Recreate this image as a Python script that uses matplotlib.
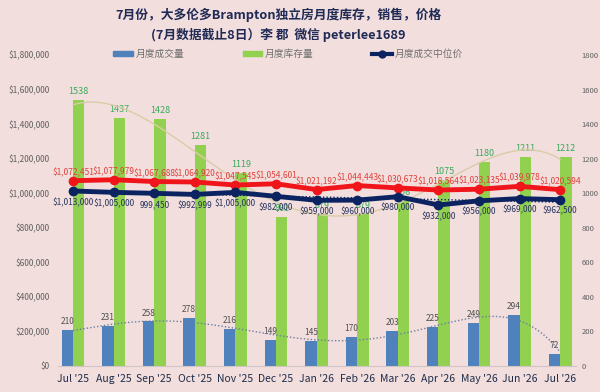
import numpy as np
import matplotlib
matplotlib.use('Agg')
from matplotlib import pyplot as plt
from matplotlib.patches import Patch
from matplotlib.lines import Line2D

plt.rcParams['font.family'] = ['Noto Sans CJK SC', 'DejaVu Sans']

months = ["Jul '25", "Aug '25", "Sep '25", "Oct '25", "Nov '25", "Dec '25", "Jan '26",
          "Feb '26", "Mar '26", "Apr '26", "May '26", "Jun '26", "Jul '26"]
sales = [210, 231, 258, 278, 216, 149, 145, 170, 203, 225, 249, 294, 72]
inventory = [1538, 1437, 1428, 1281, 1119, 861, 879, 879, 956, 1075, 1180, 1211, 1212]
avg_price = [1072451, 1077979, 1067688, 1064920, 1047545, 1054601, 1021192,
             1044443, 1030673, 1018564, 1023135, 1039978, 1020594]
median_price = [1013000, 1005000, 999450, 992999, 1005000, 982000, 959000,
                960000, 980000, 932000, 956000, 969000, 962500]

bg = '#F2DEDD'
c_blue = '#4F81BD'
c_green = '#92D050'
c_navy = '#0B2461'
c_red = '#F0141B'

fig = plt.figure(figsize=(6, 3.92), dpi=100, facecolor=bg)
ax = fig.add_axes([58 / 600, 26 / 392, 518 / 600, 311 / 392])
ax.set_facecolor(bg)
x = np.arange(len(months))
w = 0.28

# bars on the count scale (right side)
ax.bar(x - w / 2, sales, w, color=c_blue, zorder=2)
ax.bar(x + w / 2, inventory, w, color=c_green, zorder=2)
for i in range(len(x)):
    ax.annotate(str(sales[i]), (x[i] - w / 2, sales[i]), xytext=(0, 6), textcoords='offset points',
                ha='center', va='center', fontsize=6, color='#505050')
    ax.annotate(str(inventory[i]), (x[i] + w / 2, inventory[i]), xytext=(0, 6), textcoords='offset points',
                ha='center', va='center', fontsize=6.5, color='#3BAA5C')

# trendlines
xf = np.linspace(0, len(x) - 1, 200)
ax.plot(xf, np.polyval(np.polyfit(x, inventory, 5), xf), color='#D9CCA6', lw=1, zorder=3)
ax.plot(xf, np.polyval(np.polyfit(x, sales, 6), xf), color='#6A7FA0', lw=1, ls=(0, (1, 1.5)), zorder=3)

ax.set_ylim(0, 1800)
ax.set_xlim(-0.37, 12.39)
ax.set_yticks(range(0, 1801, 200))
ax.set_xticks(x)
ax.set_xticklabels(months)
ax.tick_params(axis='x', length=0, labelsize=7.5, colors='#1F2D4A', pad=6)
for sp in ax.spines.values():
    sp.set_visible(False)
ax.spines['bottom'].set_visible(True)
ax.spines['bottom'].set_color('#D0C4C4')

# price lines (left side)
ax2 = ax.twinx()
ax.yaxis.tick_right()
ax.tick_params(axis='y', length=0, labelsize=5.5, colors='#606060', pad=4)
ax2.yaxis.tick_left()
ax2.plot(xf, np.polyval(np.polyfit(x, median_price, 1), xf), color=c_navy, lw=1, ls=(0, (1, 1.5)), zorder=3)
ax2.plot(x, avg_price, color=c_red, lw=3.5, marker='o', ms=6, zorder=4)
ax2.plot(x, median_price, color=c_navy, lw=3.5, marker='o', ms=6, zorder=4)
for i in range(len(x)):
    ax2.annotate('${:,}'.format(avg_price[i]), (x[i], avg_price[i]), xytext=(0, 6), textcoords='offset points',
                 ha='center', va='center', fontsize=6, color='#E0403A')
    lab = '{:,}'.format(median_price[i]) if median_price[i] == 999450 else '${:,}'.format(median_price[i])
    ax2.annotate(lab, (x[i], median_price[i]), xytext=(0, -8), textcoords='offset points',
                 ha='center', va='center', fontsize=6, color='#26335E')
ax2.set_ylim(0, 1800000)
ax2.set_yticks(range(0, 1800001, 200000))
ax2.set_yticklabels(['$0'] + ['${:,}'.format(v) for v in range(200000, 1800001, 200000)])
ax2.tick_params(axis='y', length=0, labelsize=6, colors='#606060', pad=6)
for sp in ax2.spines.values():
    sp.set_visible(False)

fig.text(0.464, 1 - 15 / 392, '7月份，大多伦多Brampton独立房月度库存，销售，价格', ha='center', va='center',
         fontsize=9.2, fontweight='bold', color='#1F2A55')
fig.text(0.464, 1 - 35 / 392, '(7月数据截止8日）李 郡  微信 peterlee1689', ha='center', va='center',
         fontsize=9.2, fontweight='bold', color='#1F2A55')

handles = [Patch(color=c_blue), Patch(color=c_green),
           Line2D([], [], color=c_navy, lw=3, marker='o', ms=5)]
fig.legend(handles, ['月度成交量', '月度库存量', '月度成交中位价'], loc='center', ncol=3,
           bbox_to_anchor=(0.48, 1 - 54 / 392), frameon=False, fontsize=7, labelcolor='#707070',
           columnspacing=6.0, handlelength=2, handleheight=0.5, handletextpad=0.3)

fig.savefig('out.png', dpi=100, facecolor=bg)
